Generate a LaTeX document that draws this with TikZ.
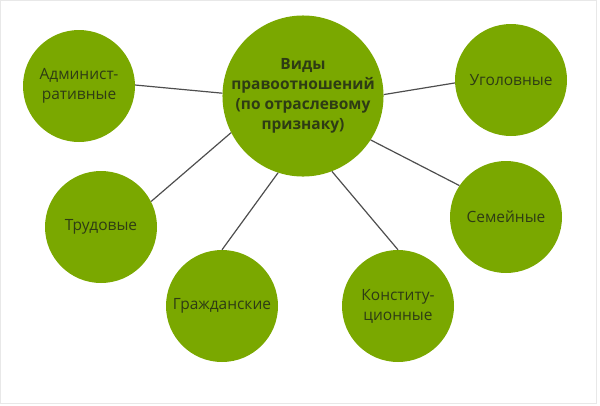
\documentclass[tikz,border=0pt]{standalone}
\usepackage{fontspec}
\setmainfont{Open Sans}
\usetikzlibrary{positioning}
\definecolor{olive}{RGB}{122,168,0}
\definecolor{moss}{RGB}{46,60,20}
\definecolor{wire}{RGB}{78,78,78}
\definecolor{frame}{RGB}{232,232,232}
\newcommand\tightlines{\lineskiplimit=-20pt\relax}

\begin{document}
\begin{tikzpicture}[x=1pt,y=-1pt,
    branch/.style={circle,fill=olive,inner sep=0pt,minimum size=112pt,align=center,
      text=moss,font=\fontsize{15.5}{19.8}\selectfont\tightlines},
    hub/.style={branch,minimum size=160pt,
      font=\fontsize{15.5}{19.8}\selectfont\tightlines\bfseries},
    link/.style={draw=wire,line width=1.2pt}]
    \useasboundingbox (0,0) rectangle (600,405);
    \draw[frame] (0.5,0.5) rectangle (596,403);

    \node[hub] (hub) at (303,96) {Виды\\правоотношений\\(по отраслевому\\признаку)};

    \foreach \n/\t/\x/\y in {
      adm/{Админист-\\ративные}/79/86,
      ugol/{Уголовные}/511/80,
      trud/{Трудовые}/101/227,
      grazh/{Гражданские}/222/306,
      konst/{Конститу-\\ционные}/398/306,
      sem/{Семейные}/506/217}
    {
      \node[branch] (\n) at (\x,\y) {\t};
    }

    \foreach \a/\n/\b in {178/adm/1, 1/ugol/183, 207/trud/27,
      252/grazh/90, 291/konst/90, 327/sem/146}
    {
      \draw[link] (hub.\a) -- (\n.\b);
    }
  \end{tikzpicture}
\end{document}
